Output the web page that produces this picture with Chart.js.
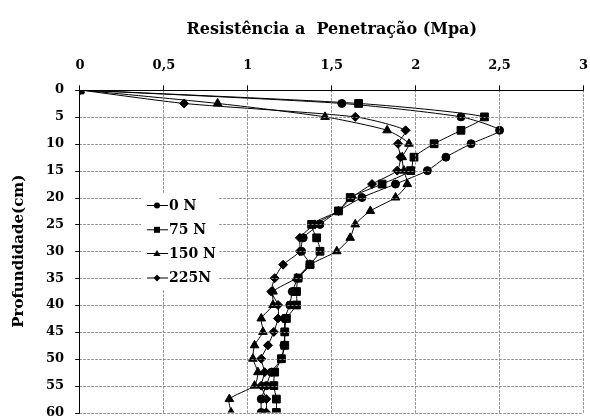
<!DOCTYPE html>
<html>
<head>
<meta charset="utf-8">
<script src="https://cdn.jsdelivr.net/npm/chart.js@4.4.0/dist/chart.umd.min.js"></script>
<style>
  html, body { margin: 0; padding: 0; background: #fff; overflow: hidden; }
  #wrap { width: 590px; height: 419px; position: relative; }
</style>
</head>
<body>
<div id="wrap"><canvas id="chart"></canvas></div>
<script>
/* ---------- data ---------- */
const depths = [0, 2.5, 5, 7.5, 10, 12.5, 15, 17.5, 20, 22.5, 25, 27.5, 30,
                32.5, 35, 37.5, 40, 42.5, 45, 47.5, 50, 52.5, 55, 57.5, 60];

const seriesNames = ["0 N", "75 N", "150 N", "225N"];

const n0 = [0, 1.56, 2.27, 2.50, 2.33, 2.18, 2.07, 1.88, 1.68, 1.54, 1.43, 1.33, 1.32,
            1.37, 1.30, 1.265, 1.25, 1.22, 1.22, 1.215, 1.20, 1.14, 1.11, 1.08, 1.08];
const n75 = [0, 1.66, 2.41, 2.27, 2.11, 1.99, 1.97, 1.80, 1.61, 1.54, 1.38, 1.41, 1.43,
             1.37, 1.30, 1.29, 1.29, 1.23, 1.22, 1.22, 1.20, 1.16, 1.155, 1.17, 1.17];
const n150 = [0, 0.82, 1.46, 1.83, 1.96, 1.92, 1.93, 1.95, 1.88, 1.73, 1.64, 1.61, 1.53,
              1.37, 1.29, 1.15, 1.15, 1.08, 1.09, 1.04, 1.03, 1.06, 1.04, 0.89, 0.90];
const n225 = [0, 0.62, 1.64, 1.94, 1.895, 1.91, 1.89, 1.74, 1.62, 1.54, 1.40, 1.31, 1.31,
              1.21, 1.16, 1.14, 1.18, 1.18, 1.155, 1.12, 1.08, 1.10, 1.08, 1.11, 1.11];

const xTicks = [0, 0.5, 1, 1.5, 2, 2.5, 3];
const yTicks = [0, 5, 10, 15, 20, 25, 30, 35, 40, 45, 50, 55, 60];

const xTitle = "Resistência a  Penetração (Mpa)";
const yTitle = "Profundidade(cm)";

/* ---------- styling ---------- */
const FONT = "'DejaVu Serif', 'Liberation Serif', serif";
Chart.defaults.font.family = FONT;
Chart.defaults.font.weight = "bold";
Chart.defaults.color = "#000";

const markers = [
  { pointStyle: "circle", radius: 4 },
  { pointStyle: "rect", radius: 5.5 },
  { pointStyle: "triangle", radius: 5 },
  { pointStyle: "rectRot", radius: 4.5 }
];

const seriesValues = [n0, n75, n150, n225];

const chartDatasets = seriesValues.map((vals, i) => ({
  label: seriesNames[i],
  data: vals.map((v, k) => ({ x: v, y: depths[k] })),
  showLine: true,
  fill: false,
  borderColor: "#000",
  borderWidth: 1,
  pointBackgroundColor: "#000",
  pointBorderColor: "#000",
  pointBorderWidth: 1,
  pointStyle: markers[i].pointStyle,
  pointRadius: markers[i].radius,
  tension: 0.2
}));

/* dotted grid, axis lines and tick marks, placed through the scales */
function drawGrid(chart) {
  const { ctx, scales: { x, y } } = chart;
  const line = (x1, y1, x2, y2) => {
    ctx.beginPath();
    ctx.moveTo(x1, y1);
    ctx.lineTo(x2, y2);
    ctx.stroke();
  };
  const xPx = v => Math.round(x.getPixelForValue(v)) - 0.5;
  const yPx = v => Math.round(y.getPixelForValue(v)) + 0.5;
  const left = xPx(xTicks[0]);
  const right = xPx(xTicks[xTicks.length - 1]);
  const top = yPx(yTicks[0]);
  const bottom = yPx(yTicks[yTicks.length - 1]);

  ctx.save();
  ctx.globalAlpha = 1;
  ctx.globalCompositeOperation = "source-over";
  ctx.lineWidth = 1;
  ctx.strokeStyle = "#8a8a8a";
  ctx.setLineDash([2, 2]);
  xTicks.forEach(v => line(xPx(v), top, xPx(v), bottom));
  yTicks.forEach(v => line(left, yPx(v), right, yPx(v)));

  ctx.setLineDash([]);
  ctx.strokeStyle = "#000";
  line(left, top, left, bottom);
  line(left, top, right, top);
  xTicks.forEach(v => line(xPx(v), top - 5, xPx(v), top));
  yTicks.forEach(v => line(left - 4, yPx(v), left, yPx(v)));
  ctx.restore();
}

/* legend drawn inside the plot area, like the original */
function legendMark(ctx, style, x, y) {
  ctx.beginPath();
  if (style === "circle") {
    ctx.arc(x, y, 3, 0, Math.PI * 2);
  } else if (style === "rect") {
    ctx.rect(x - 3, y - 3, 6, 6);
  } else if (style === "triangle") {
    ctx.moveTo(x - 3.6, y + 2.6);
    ctx.lineTo(x, y - 3.4);
    ctx.lineTo(x + 3.6, y + 2.6);
    ctx.closePath();
  } else {
    ctx.moveTo(x - 3.4, y);
    ctx.lineTo(x, y - 3.4);
    ctx.lineTo(x + 3.4, y);
    ctx.lineTo(x, y + 3.4);
    ctx.closePath();
  }
  ctx.fill();
}

const gridAndLegend = {
  id: "gridAndLegend",
  beforeDatasetsDraw(chart) {
    drawGrid(chart);
  },
  afterDraw(chart) {
    drawGrid(chart);
    const ctx = chart.ctx;
    ctx.save();
    ctx.fillStyle = "#fff";
    ctx.fillRect(141, 194, 78, 96);
    const rows = [205.5, 229.8, 253.5, 278];
    chart.data.datasets.forEach((ds, i) => {
      const y = rows[i];
      ctx.strokeStyle = "#000";
      ctx.lineWidth = 1;
      ctx.beginPath();
      ctx.moveTo(147, y);
      ctx.lineTo(168, y);
      ctx.stroke();
      ctx.fillStyle = "#000";
      legendMark(ctx, ds.pointStyle, 157, y);
      ctx.font = "bold 14px " + FONT;
      ctx.textBaseline = "middle";
      ctx.textAlign = "left";
      ctx.fillText(ds.label, 169, y + 0.5);
    });
    ctx.restore();
  }
};

new Chart(document.getElementById("chart"), {
  type: "scatter",
  data: { datasets: chartDatasets },
  options: {
    responsive: true,
    maintainAspectRatio: false,
    animation: false,
    layout: { padding: { left: 0, right: 6, top: 0, bottom: 5 } },
    plugins: {
      legend: { display: false },
      tooltip: { enabled: false }
    },
    scales: {
      x: {
        position: "top",
        min: 0,
        max: 3,
        afterBuildTicks: s => { s.ticks = xTicks.map(v => ({ value: v })); },
        afterFit: s => { s.height = 90; s.paddingLeft = 0; s.paddingRight = 0; },
        ticks: {
          font: { size: 13, weight: "bold" },
          padding: 17,
          maxRotation: 0,
          callback: v => String(v).replace(".", ",")
        },
        title: {
          display: true,
          text: xTitle,
          font: { size: 16, weight: "bold" },
          padding: { top: 20, bottom: 0 }
        },
        grid: { display: false, drawTicks: false },
        border: { display: false }
      },
      y: {
        reverse: true,
        min: 0,
        max: 60,
        afterBuildTicks: s => { s.ticks = yTicks.map(v => ({ value: v })); },
        afterFit: s => { s.width = 80; s.paddingTop = 0; s.paddingBottom = 0; },
        ticks: {
          font: { size: 13, weight: "bold" },
          padding: 16
        },
        title: {
          display: true,
          text: yTitle,
          font: { size: 15, weight: "bold" },
          padding: { top: 10, bottom: 0 }
        },
        grid: { display: false, drawTicks: false },
        border: { display: false }
      }
    }
  },
  plugins: [gridAndLegend]
});
</script>
</body>
</html>
